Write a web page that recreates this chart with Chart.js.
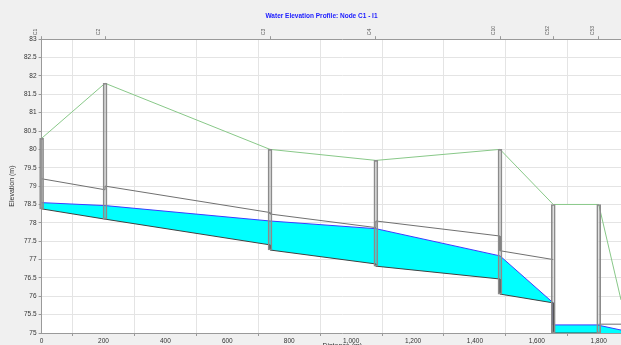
<!DOCTYPE html>
<html>
<head>
<meta charset="utf-8">
<script src="https://cdn.jsdelivr.net/npm/chart.js@4/dist/chart.umd.min.js"></script>
<style>
  html, body { margin: 0; padding: 0; background: #f0f0f0; overflow: hidden; width: 621px; height: 345px; }
  canvas { display: block; }
</style>
</head>
<body>
<canvas id="profile" width="643" height="356"></canvas>
<script>
///////////////////////////////
      /// PROFILE DATA ///
//////////////////////////////

// nodes along the profile
const nodeNames = ['C1', 'C2', 'C3', 'C4', 'C10', 'C52', 'C53'];
const nodeDist = [0, 205, 738, 1080, 1481, 1653, 1800];
const rimElev = [80.3, 81.8, 80.0, 79.7, 80.0, 78.5, 78.5];
const nodeBottom = [78.38, 78.1, 77.26, 76.82, 76.06, 75.0, 75.0];

// links between nodes (upstream / downstream ends)
const linkFrom = [0, 205, 738, 1080, 1481, 1653, 1800];
const linkTo = [205, 738, 1080, 1481, 1653, 1800, 1872];
const crownUp = [79.2, 79.0, 78.24, 78.05, 77.24, null, 75.24];
const crownDn = [78.9, 78.28, 77.87, 77.64, 77.0, null, 75.24];
const waterUp = [78.55, 78.47, 78.05, 77.84, 77.1, 75.22, 75.21];
const waterDn = [78.47, 78.05, 77.84, 77.1, 75.82, 75.22, 75.08];
const invertUp = [78.38, 78.1, 77.26, 76.82, 76.06, 75.0, 74.9];
const invertDn = [78.1, 77.4, 76.88, 76.47, 75.82, 75.0, 74.8];

// ground surface
const groundDist = [0, 205, 738, 1080, 1481, 1653, 1800, 1872];
const groundElev = [80.3, 81.8, 80.0, 79.7, 80.0, 78.5, 78.5, 75.9];

// storage unit box (between C52 and C53)
const storageDist = [1653, 1800];
const storageTop = [78.5, 78.5];

const yTicksMin = 75;
const yTicksMax = 83;


function linkPoints(upArr, dnArr) {
    const pts = [];
    for (let i = 0; i < linkFrom.length; i++) {
        pts.push({x: linkFrom[i], y: upArr[i]});
        pts.push({x: linkTo[i], y: dnArr[i]});
    }
    return pts;
}

const font = 'Liberation Sans, Arial, sans-serif';

// white plot background
const plotBg = {
    id: 'plotBg',
    beforeDraw(chart) {
        const a = chart.chartArea;
        const c = chart.ctx;
        c.save();
        c.fillStyle = '#ffffff';
        c.fillRect(a.left, a.top, a.right - a.left, a.bottom - a.top);
        c.restore();
    }
};

const ctx = document.getElementById('profile').getContext('2d');
const profileChart = new Chart(ctx, {
    type: 'line',
    data: {
        datasets: [{
            label: 'Storage',
            data: storageDist.map((d, i) => ({x: d, y: storageTop[i]})),
            borderWidth: 0,
            borderColor: 'rgba(0,0,0,0)',
            backgroundColor: '#ffffff',
            fill: {value: yTicksMin},
            pointRadius: 0,
            order: 10
        }, {
            label: 'Water',
            data: linkPoints(waterUp, waterDn),
            borderColor: '#3c3cff',
            borderWidth: 1,
            backgroundColor: '#00ffff',
            fill: '+1',
            pointRadius: 0,
            order: 8
        }, {
            label: 'Invert',
            data: linkPoints(invertUp, invertDn),
            borderColor: '#404040',
            borderWidth: 1,
            fill: false,
            pointRadius: 0,
            order: 7
        }, {
            label: 'Crown',
            data: linkPoints(crownUp, crownDn),
            borderColor: '#707070',
            borderWidth: 1,
            fill: false,
            pointRadius: 0,
            spanGaps: false,
            order: 6
        }, {
            label: 'Ground',
            data: groundDist.map((d, i) => ({x: d, y: groundElev[i]})),
            borderColor: '#88c888',
            borderWidth: 1,
            fill: false,
            pointRadius: 0,
            order: 5
        }, {
            type: 'bar',
            label: 'Nodes',
            data: nodeDist.map((d, i) => ({x: d, y: [nodeBottom[i], rimElev[i]]})),
            backgroundColor: 'rgba(140,140,140,0.2)',
            borderColor: '#8c8c8c',
            borderWidth: 1,
            borderSkipped: false,
            barThickness: 4,
            grouped: false,
            clip: 6,
            order: 1
        }]
    },

    options: {
        responsive: false,
        animation: false,
        devicePixelRatio: 1,
        layout: { padding: 0 },
        plugins: {
            legend: { display: false },
            tooltip: { enabled: false },
            title: {
                display: true,
                text: 'Water Elevation Profile: Node C1 - I1',
                color: '#1a1aff',
                font: { family: font, size: 6.5, weight: 'bold' },
                padding: { top: 12, bottom: 0 }
            }
        },
        scales: {
            x: {
                type: 'linear',
                position: 'bottom',
                min: 0,
                max: 1943,
                offset: false,
                afterFit(axis) { axis.height = 23; },
                ticks: {
                    stepSize: 200,
                    includeBounds: false,
                    maxRotation: 0,
                    color: '#333',
                    padding: 1,
                    font: { family: font, size: 6.5 }
                },
                grid: { color: '#e4e4e4', tickLength: 3, tickColor: '#999' },
                border: { color: '#9a9a9a', width: 1 },
                title: {
                    display: true,
                    text: 'Distance (m)',
                    color: '#333',
                    font: { family: font, size: 7 },
                    padding: { top: 0, bottom: 6 }
                }
            },
            xTop: {
                type: 'linear',
                position: 'top',
                min: 0,
                max: 1943,
                offset: false,
                afterBuildTicks(axis) {
                    axis.ticks = nodeDist.map(v => ({value: v}));
                },
                afterFit(axis) { axis.height = 19.4; },
                ticks: {
                    autoSkip: false,
                    minRotation: 90,
                    maxRotation: 90,
                    color: '#555',
                    padding: 1,
                    font: { family: font, size: 5 },
                    callback: (v, i) => nodeNames[i]
                },
                grid: { drawOnChartArea: false, tickLength: 3, color: '#999' },
                border: { color: '#9a9a9a', width: 1 }
            },
            y: {
                min: yTicksMin,
                max: yTicksMax,
                afterFit(axis) { axis.width = 41.6; },
                ticks: {
                    stepSize: 0.5,
                    color: '#333',
                    padding: 2,
                    font: { family: font, size: 6.5 },
                    callback: v => String(Number(v))
                },
                grid: { color: '#e4e4e4', tickLength: 3, tickColor: '#999' },
                border: { color: '#9a9a9a', width: 1 },
                title: {
                    display: true,
                    text: 'Elevation (m)',
                    color: '#333',
                    font: { family: font, size: 7 },
                    padding: { top: 8, bottom: 0 }
                }
            }
        }
    },
    plugins: [plotBg]
});
</script>
</body>
</html>
